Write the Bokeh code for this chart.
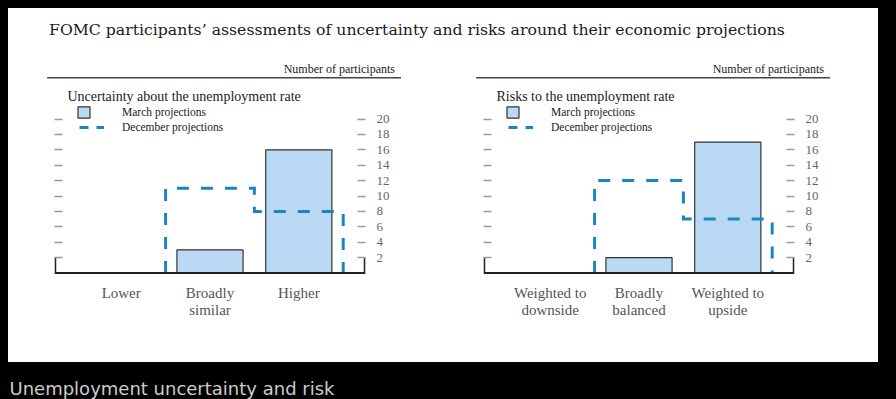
import numpy as np
from bokeh.plotting import figure
from bokeh.models import (Range1d, LinearAxis, FixedTicker, Label, Legend, LegendItem,
                          GlobalInlineStyleSheet)
from bokeh.layouts import column, row
from bokeh.embed import file_html
from bokeh.resources import INLINE
from bokeh.core.properties import value

# ---------------- data ----------------
title_text = "FOMC participants\u2019 assessments of uncertainty and risks around their economic projections"
units_label = "Number of participants"
caption_text = "Unemployment uncertainty and risk"
series_names = ["March projections", "December projections"]

uncert_title = "Uncertainty about the unemployment rate"
uncert_categories = ["Lower", "Broadly\nsimilar", "Higher"]
uncert_march = [0, 3, 16]
uncert_december = [0, 11, 8]

risk_title = "Risks to the unemployment rate"
risk_categories = ["Weighted to\ndownside", "Broadly\nbalanced", "Weighted to\nupside"]
risk_march = [0, 2, 17]
risk_december = [0, 12, 7]

y_ticks = [2, 4, 6, 8, 10, 12, 14, 16, 18, 20]

# ---------------- style / layout ----------------
SERIF = "Liberation Serif"
TITLE_FONT = "DejaVu Serif"
BAR_FILL = "#b9d9f5"
BAR_LINE = "#333333"
DASH_COLOR = "#1a86c1"
TICK_COLOR = "#999999"
TEXT_DARK = "#1a1a1a"
TXT_SHIFT = 3.5      # px correction for label baselines

PX_X = 88.8          # pixels per category
PX_Y = 7.7           # pixels per participant
FRAME_W = 311
FRAME_H = 188
PANEL_H = 282
BRACKET_HALF = 154.65 / PX_X
Y_START = -1.5 / PX_Y
BAR_WIDTH = 0.745


def step_outline(vals):
    e = np.arange(len(vals) + 1) - 0.5
    xs = np.repeat(e, 2)
    ys = np.concatenate([[0], np.repeat(vals, 2), [0]]).astype(float)
    start = max(int(np.argmax(ys > 0)) - 1, 0)
    return xs[start:], ys[start:]


def make_panel(subtitle, cats, march, december, border_left, border_right):
    n = len(cats)
    xs = np.arange(n)
    mid = (n - 1) / 2
    half = FRAME_W / 2 / PX_X
    p = figure(width=border_left + FRAME_W + border_right, height=PANEL_H,
               x_range=Range1d(mid - half, mid + half),
               y_range=Range1d(Y_START, Y_START + FRAME_H / PX_Y),
               min_border_left=border_left, min_border_right=border_right,
               min_border_top=6, min_border_bottom=PANEL_H - 6 - FRAME_H,
               toolbar_location=None, output_backend="svg",
               x_axis_location=None, y_axis_location=None)
    p.outline_line_color = None
    p.background_fill_color = "white"
    p.border_fill_color = "white"
    p.grid.visible = False

    bars = p.vbar(x=xs, top=march, bottom=0, width=BAR_WIDTH,
                  fill_color=BAR_FILL, line_color=BAR_LINE, line_width=1.2)

    sx, sy = step_outline(december)
    p.line(x=sx, y=sy, line_color=DASH_COLOR, line_width=3, line_dash="12 12",
           line_cap="butt", line_join="miter")
    # legend-only glyph (nothing drawn in the plot)
    dummy = p.line(x=[np.nan], y=[np.nan], line_color=DASH_COLOR, line_width=3, line_dash="9 8")

    xl, xr = mid - BRACKET_HALF, mid + BRACKET_HALF
    p.line(x=[xl, xl, xr, xr], y=[y_ticks[0], 0, 0, y_ticks[0]],
           line_color="#222222", line_width=1.8, line_join="miter")

    # axes
    bottom = LinearAxis(ticker=FixedTicker(ticks=list(xs)),
                        major_label_overrides={int(i): c for i, c in zip(xs, cats)})
    bottom.axis_line_color = None
    bottom.major_tick_line_color = None
    bottom.minor_tick_line_color = None
    bottom.major_label_standoff = 4
    bottom.major_label_text_font = SERIF
    bottom.major_label_text_font_size = "15px"
    bottom.major_label_text_color = "#555555"
    bottom.major_label_text_line_height = 1.1
    p.add_layout(bottom, "below")

    for side in ("left", "right"):
        ax = LinearAxis(ticker=FixedTicker(ticks=y_ticks))
        ax.axis_line_color = None
        ax.minor_tick_line_color = None
        ax.major_tick_in = 8
        ax.major_tick_out = 0
        ax.major_tick_line_color = TICK_COLOR
        ax.major_tick_line_width = 1.3
        ax.major_label_text_font = SERIF
        ax.major_label_text_font_size = "13px"
        ax.major_label_text_color = "#666666" if side == "right" else None
        ax.major_label_standoff = 11
        p.add_layout(ax, side)

    p.add_layout(Label(x=mid - half, y=(272.5 - 99.3) / PX_Y, x_offset=13, y_offset=TXT_SHIFT,
                       text=subtitle, text_font=SERIF, text_font_size="14px",
                       text_color=TEXT_DARK, text_baseline="alphabetic"))

    leg1 = Legend(items=[LegendItem(label=value(series_names[0]), renderers=[bars])],
                  location=(22, FRAME_H - 19 - 14), glyph_width=15, glyph_height=14,
                  label_standoff=31, label_height=14, label_width=10)
    leg2 = Legend(items=[LegendItem(label=value(series_names[1]), renderers=[dummy])],
                  location=(25, FRAME_H - 34 - 14), glyph_width=25, glyph_height=14,
                  label_standoff=18, label_height=14, label_width=10)
    for lg in (leg1, leg2):
        lg.padding = 0
        lg.margin = 0
        lg.spacing = 0
        lg.border_line_color = None
        lg.background_fill_alpha = 0
        lg.label_text_font = SERIF
        lg.label_text_font_size = "11.5px"
        lg.label_text_color = TEXT_DARK
        p.add_layout(lg, "center")
    return p


# ---------------- header ----------------
hdr = figure(width=870, height=72, x_range=Range1d(0, 870), y_range=Range1d(72, 0),
             min_border=0, toolbar_location=None, output_backend="svg",
             x_axis_location=None, y_axis_location=None)
hdr.outline_line_color = None
hdr.grid.visible = False
hdr.background_fill_color = "white"
hdr.border_fill_color = "white"
hdr.add_layout(Label(x=40.5, y=24.7 - TXT_SHIFT, text=title_text, text_font=TITLE_FONT,
                     text_font_size="15.7px", text_color=TEXT_DARK, text_baseline="alphabetic"))
for k in range(2):
    hdr.add_layout(Label(x=386.5 + 429 * k, y=64.3 - TXT_SHIFT, text=units_label, text_font=SERIF,
                         text_font_size="12px", text_color=TEXT_DARK,
                         text_align="right", text_baseline="alphabetic"))
hdr.segment(x0=[38.7, 38.7 + 429], x1=[392.5, 392.5 + 429], y0=[69.3, 69.3], y1=[69.3, 69.3],
            line_color="#444444", line_width=1.6)

p1 = make_panel(uncert_title, uncert_categories, uncert_march, uncert_december, 46, 78)
p2 = make_panel(risk_title, risk_categories, risk_march, risk_december, 40, 84)

# ---------------- caption ----------------
cap = figure(width=870, height=37, x_range=Range1d(0, 870), y_range=Range1d(37, 0),
             min_border=0, toolbar_location=None, output_backend="svg",
             x_axis_location=None, y_axis_location=None)
cap.outline_line_color = None
cap.grid.visible = False
cap.background_fill_color = "black"
cap.border_fill_color = "black"
cap.add_layout(Label(x=1, y=29.7 - TXT_SHIFT, text=caption_text, text_font="DejaVu Sans",
                     text_font_size="18px", text_color="#cccccc", text_baseline="alphabetic"))

white_block = column(hdr, row(p1, p2, styles={"background-color": "white"}),
                     styles={"background-color": "white"})
root = column(white_block, cap,
              stylesheets=[GlobalInlineStyleSheet(
                  css="html, body {background-color: #000000; overflow: hidden;} body {margin: 8px;}")])

open("out.html", "w").write(file_html(root, INLINE))
